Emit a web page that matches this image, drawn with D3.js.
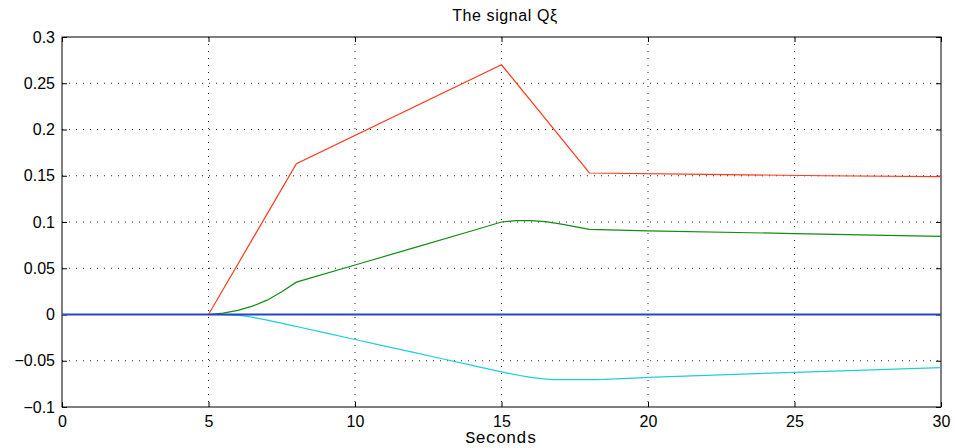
<!DOCTYPE html>
<html>
<head>
<meta charset="utf-8">
<script src="https://cdn.jsdelivr.net/npm/d3@7"></script>
<style>
  body { margin: 0; background: #fff; }
  svg { display: block; }
  .tick text { font-family: "Liberation Sans", Arial, sans-serif; font-size: 16px; fill: #000; }
</style>
</head>
<body>
<div id="viz"></div>
<script>
// time samples (seconds) and the four signal components
var redT   = [0, 5, 8, 15, 18, 22, 26, 30];
var redV   = [0, 0, 0.163, 0.27, 0.153, 0.1515, 0.150, 0.149];

var greenT = [0, 5, 5.5, 6, 6.5, 7, 7.5, 8, 10, 12, 14, 15, 15.5, 16, 16.5, 17, 17.5, 18, 20, 25, 30];
var greenV = [0, 0, 0.0015, 0.0045, 0.009, 0.0155, 0.0245, 0.035, 0.0535, 0.072, 0.0905, 0.1, 0.1015, 0.1015, 0.1005, 0.098, 0.095, 0.092, 0.0905, 0.0875, 0.0845];

var cyanT  = [0, 5, 6, 7, 8, 10, 12, 14, 15, 16, 17, 18, 20, 25, 30];
var cyanV  = [0, 0, -0.001, -0.006, -0.013, -0.027, -0.041, -0.055, -0.062, -0.068, -0.0705, -0.0705, -0.068, -0.0625, -0.0575];

var blueT  = [0, 30];
var blueV  = [0, 0];

var xTicks = [0, 5, 10, 15, 20, 25, 30];
var yTicks = [-0.1, -0.05, 0, 0.05, 0.1, 0.15, 0.2, 0.25, 0.3];

var W = 955, H = 448;
var margin = {top: 37, right: 14, bottom: 41, left: 62};
var width = W - margin.left - margin.right,
    height = H - margin.top - margin.bottom;

var svg = d3.select("#viz").append("svg")
    .attr("width", W)
    .attr("height", H);

var g = svg.append("g")
    .attr("transform", "translate(" + margin.left + "," + margin.top + ")");

var x = d3.scaleLinear().domain([0, 30]).range([0, width]);
var y = d3.scaleLinear().domain([-0.1, 0.3]).range([height, 0]);

// dotted grid
g.append("g").selectAll("line")
    .data(xTicks.slice(1, -1))
    .enter().append("line")
    .attr("x1", function(d) { return x(d); })
    .attr("x2", function(d) { return x(d); })
    .attr("y1", 0).attr("y2", height)
    .attr("stroke", "#222")
    .attr("stroke-width", 1)
    .attr("stroke-dasharray", "1,6");

g.append("g").selectAll("line")
    .data(yTicks.slice(1, -1))
    .enter().append("line")
    .attr("y1", function(d) { return y(d); })
    .attr("y2", function(d) { return y(d); })
    .attr("x1", 0).attr("x2", width)
    .attr("stroke", "#222")
    .attr("stroke-width", 1)
    .attr("stroke-dasharray", "1,6");

// axes, ticks pointing inward on all four sides
function styleAxis(sel) {
    sel.select(".domain").remove();
    sel.selectAll(".tick line").attr("stroke", "#000");
}

g.append("g")
    .attr("transform", "translate(0," + height + ")")
    .call(d3.axisBottom(x).tickValues(xTicks).tickSizeInner(-5).tickSizeOuter(0).tickPadding(9).tickFormat(d3.format("")))
    .call(styleAxis);

g.append("g")
    .call(d3.axisTop(x).tickValues(xTicks).tickSizeInner(-5).tickSizeOuter(0).tickFormat(""))
    .call(styleAxis);

g.append("g")
    .call(d3.axisLeft(y).tickValues(yTicks).tickSizeInner(-5).tickSizeOuter(0).tickPadding(7)
        .tickFormat(function(d) { return d3.format("")(+d.toFixed(2)).replace("-", "\u2212"); }))
    .call(styleAxis);

g.append("g")
    .attr("transform", "translate(" + width + ",0)")
    .call(d3.axisRight(y).tickValues(yTicks).tickSizeInner(-5).tickSizeOuter(0).tickFormat(""))
    .call(styleAxis);

g.append("rect")
    .attr("width", width).attr("height", height)
    .attr("fill", "none")
    .attr("stroke", "#000")
    .attr("stroke-width", 1);

var line = d3.line()
    .x(function(d) { return x(d[0]); })
    .y(function(d) { return y(d[1]); });

var smooth = d3.line()
    .x(function(d) { return x(d[0]); })
    .y(function(d) { return y(d[1]); })
    .curve(d3.curveMonotoneX);

function series(ts, vs) { return ts.map(function(t, i) { return [t, vs[i]]; }); }

g.append("path").datum(series(redT, redV))
    .attr("d", line).attr("fill", "none").attr("stroke", "#ff3a1c").attr("stroke-width", 1.2);

g.append("path").datum(series(greenT, greenV))
    .attr("d", line).attr("fill", "none").attr("stroke", "#128c12").attr("stroke-width", 1.2);

g.append("path").datum(series(cyanT, cyanV))
    .attr("d", smooth).attr("fill", "none").attr("stroke", "#1ecfd6").attr("stroke-width", 1.2);

g.append("path").datum(series(blueT, blueV))
    .attr("d", line).attr("fill", "none").attr("stroke", "#2b44c4").attr("stroke-width", 2);

// title and x label
svg.append("text")
    .attr("x", 505)
    .attr("y", 21)
    .attr("text-anchor", "middle")
    .attr("style", "font-family: 'Liberation Sans', Arial, sans-serif; font-size: 16px; letter-spacing: 0.6px;")
    .text("The signal Q\u03BE");

svg.append("text")
    .attr("x", 501)
    .attr("y", 443)
    .attr("text-anchor", "middle")
    .attr("style", "font-family: 'Liberation Mono', 'Courier New', monospace; font-size: 17px;")
    .text("Seconds");
</script>
</body>
</html>
